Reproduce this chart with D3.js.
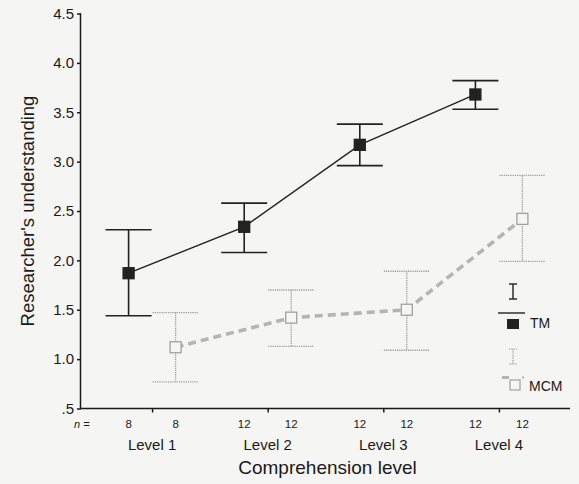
<!DOCTYPE html>
<html>
<head>
<meta charset="utf-8">
<script src="https://cdn.jsdelivr.net/npm/d3@7"></script>
<style>
    body { margin: 0; background: #f5f5f3; }
    svg { display: block; font-family: "Liberation Sans", Arial, sans-serif; }
</style>
</head>
<body>
<div id="chart"></div>
<script>
// Comprehension levels and group sizes
const levels = ['Level 1', 'Level 2', 'Level 3', 'Level 4']
const tmN = [8, 12, 12, 12]
const mcmN = [8, 12, 12, 12]

// TM series: mean and error bar ends
const tmMean = [1.87, 2.34, 3.17, 3.68]
const tmUpper = [2.31, 2.58, 3.38, 3.82]
const tmLower = [1.44, 2.08, 2.96, 3.53]

// MCM series: mean and error bar ends
const mcmMean = [1.12, 1.42, 1.50, 2.42]
const mcmUpper = [1.47, 1.70, 1.89, 2.86]
const mcmLower = [0.77, 1.13, 1.09, 1.99]

const yTicks = [0.5, 1.0, 1.5, 2.0, 2.5, 3.0, 3.5, 4.0, 4.5]

const WIDTH = 579
const HEIGHT = 484
const LEFT = 81
const RIGHT = 570
const TOP = 13.5
const BOTTOM = 408.5
const OFFSET = 23.5   // each series sits either side of the level tick
const CAP = 23
const MARK = 11
const INK = '#1a1a1a'

const svg = d3.select('#chart')
    .append('svg')
    .attr('width', WIDTH)
    .attr('height', HEIGHT)

const x = d3.scalePoint()
    .domain(levels)
    .range([LEFT, RIGHT])
    .padding(0.615)

const y = d3.scaleLinear()
    .domain([0.5, 4.5])
    .range([BOTTOM, TOP])

const series = [
    {
        name: 'TM', mean: tmMean, upper: tmUpper, lower: tmLower, n: tmN, dx: -OFFSET,
        color: '#222', barDash: null, barWidth: 1.6,
        lineWidth: 1.4, lineDash: null, lineColor: '#222'
    },
    {
        name: 'MCM', mean: mcmMean, upper: mcmUpper, lower: mcmLower, n: mcmN, dx: OFFSET,
        color: '#9a9a9a', barDash: '1.2,1', barWidth: 1.3,
        lineWidth: 3.6, lineDash: '8,5', lineColor: '#b4b4b4'
    }
]

// Axes
const yAxis = svg.append('g')
    .attr('transform', `translate(${LEFT},0)`)
    .call(d3.axisLeft(y)
        .tickValues(yTicks)
        .tickSize(4)
        .tickPadding(3)
        .tickFormat(d => d === 0.5 ? '.5' : d.toFixed(1)))
yAxis.select('.domain').attr('d', `M-0.5,${TOP}V${BOTTOM}`)

const xAxis = svg.append('g')
    .attr('transform', `translate(0,${BOTTOM})`)
    .call(d3.axisBottom(x).tickSize(4).tickFormat(''))
xAxis.select('.domain').attr('d', `M${LEFT - 0.5},0H${RIGHT}`)

svg.selectAll('.domain, .tick line')
    .style('stroke', INK)
    .style('stroke-width', 1.5)
svg.selectAll('.tick text')
    .style('font-size', '15px')
    .style('fill', INK)

// Lines through the means
series.forEach(s => {
    const line = d3.line()
        .x((d, i) => x(levels[i]) + s.dx)
        .y(d => y(d))

    svg.append('path')
        .attr('d', line(s.mean))
        .style('fill', 'none')
        .style('stroke', s.lineColor)
        .style('stroke-width', s.lineWidth)
        .style('stroke-dasharray', s.lineDash)
})

// Error bars and markers
series.forEach(s => {
    const g = svg.append('g').attr('class', 'series-' + s.name)
    const idx = d3.range(levels.length)
    const cx = i => x(levels[i]) + s.dx

    const bar = g.selectAll('.bar')
        .data(idx)
        .enter()
        .append('g')
        .style('stroke', s.color)
        .style('stroke-width', s.barWidth)
        .style('stroke-dasharray', s.barDash)

    bar.append('line')
        .attr('x1', cx).attr('x2', cx)
        .attr('y1', i => y(s.upper[i])).attr('y2', i => y(s.lower[i]))
    bar.append('line')
        .attr('x1', i => cx(i) - CAP).attr('x2', i => cx(i) + CAP)
        .attr('y1', i => y(s.upper[i])).attr('y2', i => y(s.upper[i]))
    bar.append('line')
        .attr('x1', i => cx(i) - CAP).attr('x2', i => cx(i) + CAP)
        .attr('y1', i => y(s.lower[i])).attr('y2', i => y(s.lower[i]))

    g.selectAll('.mark')
        .data(idx)
        .enter()
        .append('rect')
        .attr('x', i => cx(i) - MARK / 2)
        .attr('y', i => y(s.mean[i]) - MARK / 2)
        .attr('width', MARK)
        .attr('height', MARK)
        .style('fill', s.name === 'TM' ? '#222' : '#f5f5f3')
        .style('stroke', s.name === 'TM' ? '#222' : '#a0a0a0')
        .style('stroke-width', 1.3)

    // group sizes under the axis
    g.selectAll('.n')
        .data(idx)
        .enter()
        .append('text')
        .attr('x', cx)
        .attr('y', 428)
        .attr('text-anchor', 'middle')
        .style('font-size', '11.5px')
        .style('fill', INK)
        .text(i => s.n[i])
})

svg.append('text')
    .attr('x', 74)
    .attr('y', 428)
    .style('font-size', '11px')
    .style('font-style', 'italic')
    .style('fill', INK)
    .text('n =')

svg.selectAll('.level-label')
    .data(levels)
    .enter()
    .append('text')
    .attr('x', d => x(d))
    .attr('y', 450)
    .attr('text-anchor', 'middle')
    .style('font-size', '15px')
    .style('fill', INK)
    .text(d => d)

svg.append('text')
    .attr('x', (LEFT + RIGHT) / 2 + 2)
    .attr('y', 474)
    .attr('text-anchor', 'middle')
    .style('font-size', '19px')
    .style('fill', INK)
    .text('Comprehension level')

svg.append('text')
    .attr('transform', `translate(34,${(TOP + BOTTOM) / 2}) rotate(-90)`)
    .attr('text-anchor', 'middle')
    .style('font-size', '18.5px')
    .style('fill', INK)
    .text("Researcher's understanding")

// Legend, drawn by hand like the original
const legend = svg.append('g').attr('transform', 'translate(513,0)')

const tmKey = legend.append('g').style('stroke', '#222').style('stroke-width', 1.4)
tmKey.append('line').attr('x1', 0).attr('x2', 0).attr('y1', 284).attr('y2', 299)
tmKey.append('line').attr('x1', -4).attr('x2', 4).attr('y1', 284).attr('y2', 284)
tmKey.append('line').attr('x1', -4).attr('x2', 4).attr('y1', 299).attr('y2', 299)
tmKey.append('line').attr('x1', -15).attr('x2', 12).attr('y1', 313).attr('y2', 313)
legend.append('rect')
    .attr('x', -6).attr('y', 319).attr('width', 12).attr('height', 10)
    .style('fill', '#222')
legend.append('text')
    .attr('x', 17).attr('y', 328)
    .style('font-size', '14px')
    .style('fill', INK)
    .text('TM')

const mcmKey = legend.append('g')
    .style('stroke', '#9a9a9a')
    .style('stroke-width', 1.2)
    .style('stroke-dasharray', '1.2,1')
mcmKey.append('line').attr('x1', 0).attr('x2', 0).attr('y1', 349).attr('y2', 364)
mcmKey.append('line').attr('x1', -4).attr('x2', 4).attr('y1', 349).attr('y2', 349)
mcmKey.append('line').attr('x1', -4).attr('x2', 4).attr('y1', 364).attr('y2', 364)
legend.append('line')
    .attr('x1', -11).attr('x2', -4).attr('y1', 377.5).attr('y2', 377.5)
    .style('stroke', '#b4b4b4').style('stroke-width', 3)
legend.append('line')
    .attr('x1', 9).attr('x2', 11).attr('y1', 377.5).attr('y2', 377.5)
    .style('stroke', '#b4b4b4').style('stroke-width', 2)
legend.append('rect')
    .attr('x', -3).attr('y', 380).attr('width', 10).attr('height', 10)
    .style('fill', '#f5f5f3').style('stroke', '#a0a0a0').style('stroke-width', 1.2)
legend.append('text')
    .attr('x', 16).attr('y', 391)
    .style('font-size', '14px')
    .style('fill', INK)
    .text('MCM')
</script>
</body>
</html>
